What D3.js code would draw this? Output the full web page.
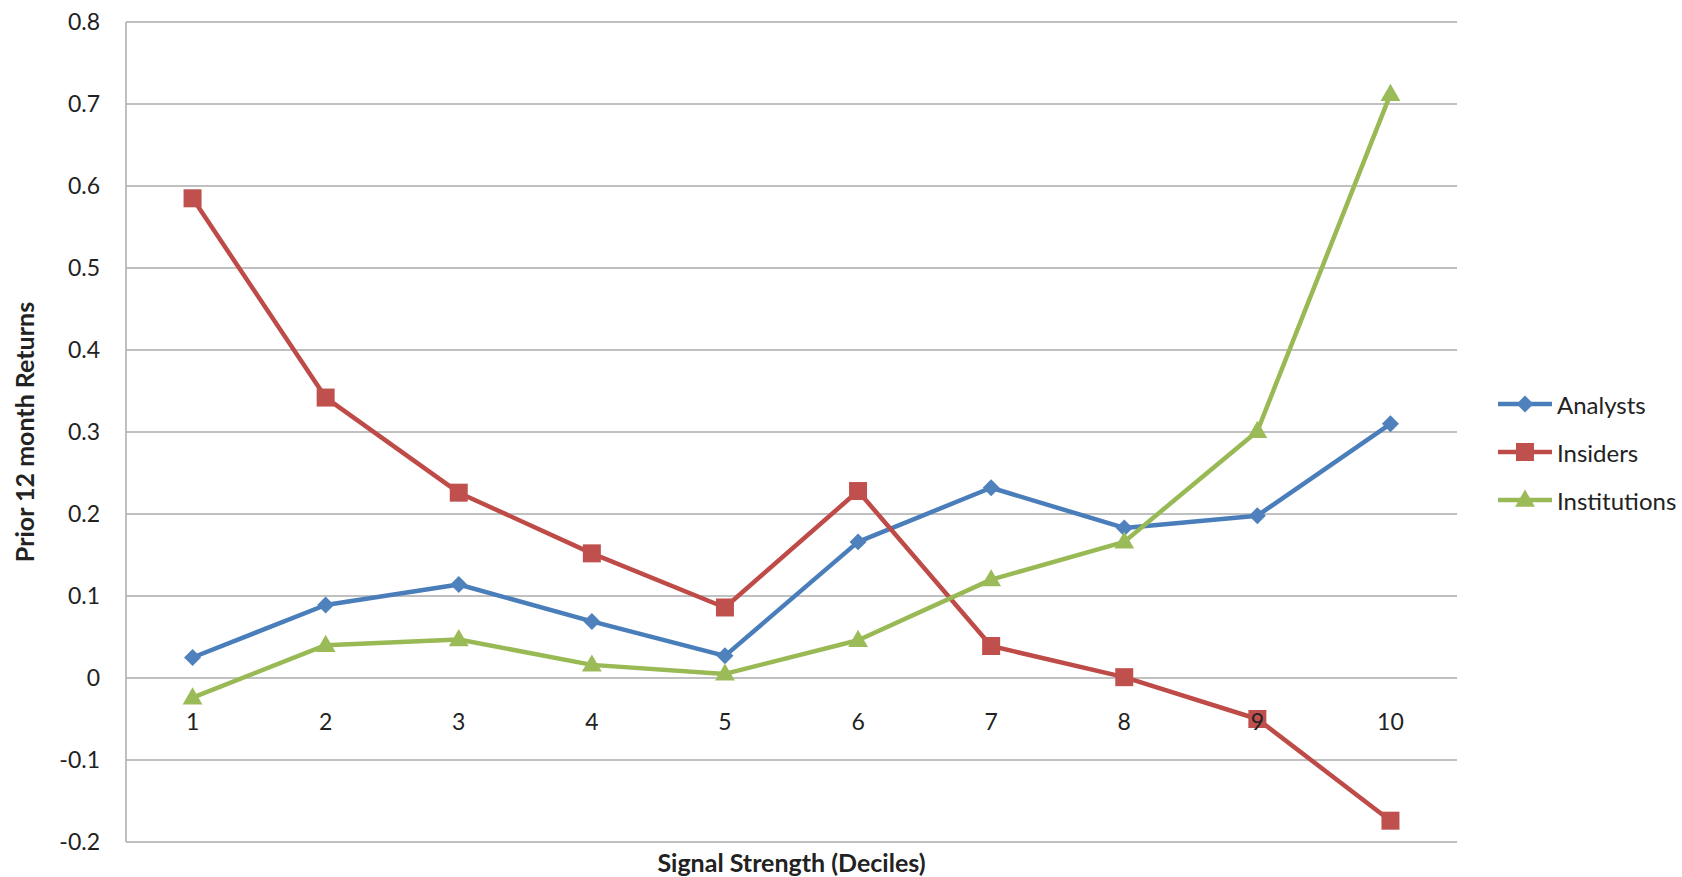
<!DOCTYPE html>
<html>
<head>
<meta charset="utf-8">
<script src="https://cdn.jsdelivr.net/npm/d3@7"></script>
<style>
  html, body { margin: 0; padding: 0; background: #fff; }
  svg { display: block; font-family: Lato, "Open Sans", sans-serif; }
</style>
</head>
<body>
<svg id="chart" width="1682" height="877"></svg>
<script>
// ---- data ----
const categories = ["1","2","3","4","5","6","7","8","9","10"];
const analysts     = [0.025, 0.089, 0.114, 0.069, 0.027, 0.166, 0.232, 0.183, 0.198, 0.310];
const insiders     = [0.585, 0.342, 0.226, 0.152, 0.086, 0.228, 0.039, 0.001, -0.050, -0.174];
const institutions = [-0.024, 0.040, 0.047, 0.016, 0.005, 0.046, 0.120, 0.166, 0.301, 0.712];
const seriesNames  = ["Analysts", "Insiders", "Institutions"];
const yTicks       = [-0.2, -0.1, 0, 0.1, 0.2, 0.3, 0.4, 0.5, 0.6, 0.7, 0.8];
const yTickLabels  = ["-0.2", "-0.1", "0", "0.1", "0.2", "0.3", "0.4", "0.5", "0.6", "0.7", "0.8"];
const xTitle = "Signal Strength (Deciles)";
const yTitle = "Prior 12 month Returns";

// ---- layout ----
const svg = d3.select("#chart");
const plot = { left: 126, right: 1457, top: 22, bottom: 842 };

const x = d3.scaleBand().domain(categories).range([plot.left, plot.right]).padding(0);
const xc = d => x(d) + x.bandwidth() / 2;
const y = d3.scaleLinear().domain([-0.2, 0.8]).range([plot.bottom, plot.top]);

const gridColor = "#ABABAB";
const series = [
  { name: seriesNames[0], values: analysts,     line: "#4A7EBB", fill: "#4F81BD", shape: "diamond" },
  { name: seriesNames[1], values: insiders,     line: "#BE4B48", fill: "#C0504D", shape: "square" },
  { name: seriesNames[2], values: institutions, line: "#98B954", fill: "#9BBB59", shape: "triangle" }
];

function markerPath(shape) {
  if (shape === "diamond") return d3.symbol(d3.symbolSquare, 144)();
  if (shape === "square") return d3.symbol(d3.symbolSquare, 324)();
  return d3.symbol(d3.symbolTriangle, 170)();
}
function markerTransform(shape, px, py) {
  if (shape === "diamond") return `translate(${px},${py}) rotate(45)`;
  if (shape === "triangle") return `translate(${px},${py + 1})`;
  return `translate(${px},${py})`;
}

// ---- gridlines ----
svg.append("g").selectAll("line").data(yTicks).join("line")
  .attr("x1", plot.left).attr("x2", plot.right)
  .attr("y1", d => y(d)).attr("y2", d => y(d))
  .attr("stroke", gridColor).attr("stroke-width", 1.5);

// left axis line
svg.append("line")
  .attr("x1", plot.left).attr("x2", plot.left)
  .attr("y1", plot.top).attr("y2", plot.bottom)
  .attr("stroke", gridColor).attr("stroke-width", 1.5);

// ---- y axis labels ----
const yAxis = svg.append("g")
  .attr("transform", `translate(${plot.left},0)`)
  .call(d3.axisLeft(y).tickValues(yTicks).tickSize(0).tickPadding(26)
        .tickFormat((d, i) => yTickLabels[i]));
yAxis.select(".domain").remove();
yAxis.selectAll("text").attr("font-size", 23).attr("fill", "#222")
  .attr("font-family", "Lato, sans-serif");

// ---- series ----
const lineGen = d3.line().x((d, i) => xc(categories[i])).y(d => y(d));
series.forEach(s => {
  svg.append("path").datum(s.values)
    .attr("d", lineGen)
    .attr("fill", "none")
    .attr("stroke", s.line)
    .attr("stroke-width", 4.5)
    .attr("stroke-linejoin", "round");
  svg.append("g").selectAll("path").data(s.values).join("path")
    .attr("d", markerPath(s.shape))
    .attr("transform", (d, i) => markerTransform(s.shape, xc(categories[i]), y(d)))
    .attr("fill", s.fill);
});

// ---- x axis labels (at zero line) ----
const xAxis = svg.append("g")
  .attr("transform", `translate(0,${y(0)})`)
  .call(d3.axisBottom(x).tickSize(0).tickPadding(0));
xAxis.select(".domain").remove();
xAxis.selectAll("text").attr("font-size", 23).attr("fill", "#222")
  .attr("font-family", "Lato, sans-serif")
  .attr("y", 44).attr("dy", "0.35em");

// ---- axis titles ----
svg.append("text")
  .attr("x", (plot.left + plot.right) / 2).attr("y", 862)
  .attr("text-anchor", "middle").attr("dominant-baseline", "central")
  .attr("font-size", 25).attr("font-weight", "bold").attr("fill", "#222")
  .text(xTitle);

svg.append("text")
  .attr("transform", `translate(24,${(plot.top + plot.bottom) / 2}) rotate(-90)`)
  .attr("text-anchor", "middle").attr("dominant-baseline", "central")
  .attr("font-size", 25).attr("font-weight", "bold").attr("fill", "#222")
  .text(yTitle);

// ---- legend ----
const legendY = [404, 452, 500];
const legend = svg.append("g");
series.forEach((s, i) => {
  const g = legend.append("g").attr("transform", `translate(0,${legendY[i]})`);
  g.append("line").attr("x1", 1498).attr("x2", 1552).attr("y1", 0).attr("y2", 0)
    .attr("stroke", s.line).attr("stroke-width", 4.5);
  g.append("path").attr("d", markerPath(s.shape))
    .attr("transform", markerTransform(s.shape, 1525, 0))
    .attr("fill", s.fill);
  g.append("text").attr("x", 1557).attr("y", 0)
    .attr("dominant-baseline", "central")
    .attr("font-size", 24).attr("fill", "#222")
    .text(s.name);
});
</script>
</body>
</html>
